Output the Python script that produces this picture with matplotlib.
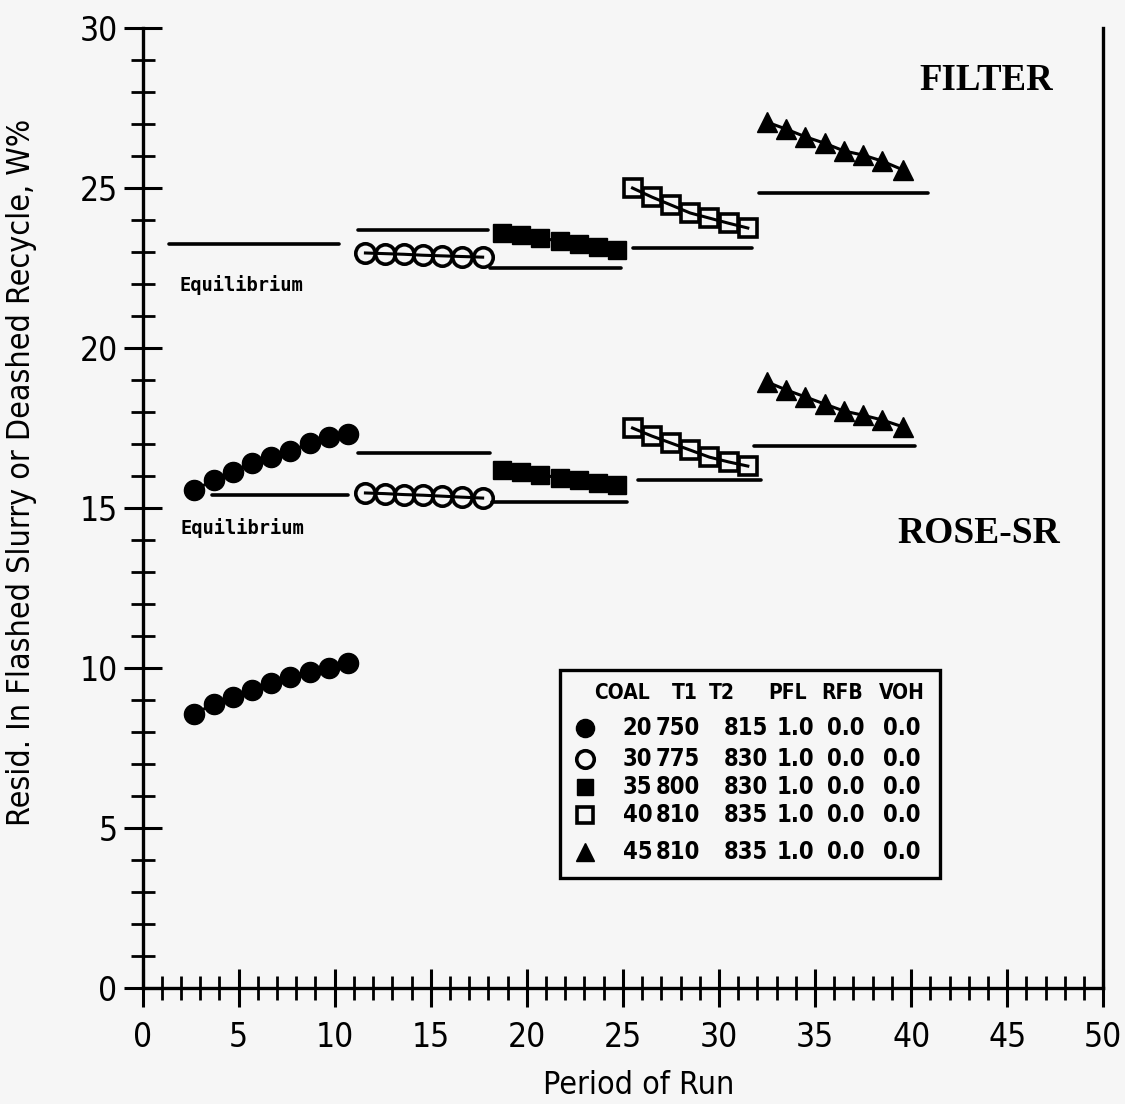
import matplotlib
matplotlib.use("Agg")
import matplotlib.pyplot as plt
from matplotlib.patches import Rectangle
from matplotlib.ticker import MultipleLocator

plt.rcParams["font.family"] = ["DejaVu Sans"]
plt.rcParams["font.stretch"] = "condensed"

# ---- data ----
x_c20 = [2.7, 3.7, 4.7, 5.7, 6.7, 7.7, 8.7, 9.7, 10.7]
x_c30 = [11.6, 12.6, 13.6, 14.6, 15.6, 16.6, 17.7]
x_c35 = [18.7, 19.7, 20.7, 21.7, 22.7, 23.7, 24.7]
x_c40 = [25.5, 26.5, 27.5, 28.5, 29.5, 30.5, 31.5]
x_c45 = [32.5, 33.5, 34.5, 35.5, 36.5, 37.5, 38.5, 39.6]

# FILTER group
filter_c30 = [22.97, 22.95, 22.93, 22.9, 22.88, 22.86, 22.84]
filter_c35 = [23.6, 23.52, 23.43, 23.35, 23.25, 23.15, 23.06]
filter_c40 = [25.0, 24.72, 24.47, 24.22, 24.06, 23.9, 23.75]
filter_c45 = [27.06, 26.84, 26.6, 26.4, 26.16, 26.03, 25.84, 25.56]

# ROSE-SR group
rose_c20 = [15.56, 15.87, 16.13, 16.4, 16.6, 16.78, 17.03, 17.22, 17.31]
rose_c30 = [15.47, 15.45, 15.42, 15.4, 15.37, 15.34, 15.31]
rose_c35 = [16.2, 16.12, 16.03, 15.95, 15.86, 15.78, 15.72]
rose_c40 = [17.5, 17.25, 17.03, 16.81, 16.59, 16.44, 16.31]
rose_c45 = [18.94, 18.69, 18.47, 18.25, 18.03, 17.9, 17.75, 17.53]

# lowest filled-circle series
low_c20 = [8.56, 8.88, 9.1, 9.31, 9.53, 9.72, 9.88, 10.0, 10.16]

# equilibrium lines: (x start, x end, level)
filter_eq = [(1.4, 10.2, 23.25), (11.2, 18.0, 23.7), (18.1, 24.9, 22.5),
             (25.5, 31.7, 23.13), (32.1, 40.9, 24.85)]
rose_eq = [(3.6, 10.7, 15.42), (11.2, 18.1, 16.72), (18.2, 25.2, 15.2),
           (25.8, 32.2, 15.87), (31.8, 40.2, 16.95)]

# legend table
col_names = ["COAL", "T1", "T2", "PFL", "RFB", "VOH"]
coal = ["20", "30", "35", "40", "45"]
t1 = ["750", "775", "800", "810", "810"]
t2 = ["815", "830", "830", "835", "835"]
pfl = ["1.0", "1.0", "1.0", "1.0", "1.0"]
rfb = ["0.0", "0.0", "0.0", "0.0", "0.0"]
voh = ["0.0", "0.0", "0.0", "0.0", "0.0"]

# ---- styles ----
styles = [
    dict(marker="o", ms=14.5, mfc="black"),
    dict(marker="o", ms=14, mfc="none", mew=2.6),
    dict(marker="s", ms=13.5, mfc="black"),
    dict(marker="s", ms=12.5, mfc="none", mew=2.6),
    dict(marker="^", ms=15, mfc="black"),
]

bg = "#f6f6f6"
fig = plt.figure(figsize=(11.25, 11.04), dpi=100, facecolor=bg)
ax = fig.add_axes([0.1267, 0.1051, 0.854, 0.8695])
ax.set_facecolor(bg)


def series(xs, ys, st):
    ax.plot(xs, ys, "-", color="black", lw=2.2, mec="black", clip_on=False, **st)


for xs, ys, st in [(x_c30, filter_c30, styles[1]), (x_c35, filter_c35, styles[2]),
                   (x_c40, filter_c40, styles[3]), (x_c45, filter_c45, styles[4]),
                   (x_c20, rose_c20, styles[0]), (x_c30, rose_c30, styles[1]),
                   (x_c35, rose_c35, styles[2]), (x_c40, rose_c40, styles[3]),
                   (x_c45, rose_c45, styles[4]), (x_c20, low_c20, styles[0])]:
    series(xs, ys, st)

for x0, x1, lev in filter_eq + rose_eq:
    ax.plot([x0, x1], [lev, lev], color="black", lw=2.6, solid_capstyle="round")

ax.text(1.9, 21.97, "Equilibrium", family="DejaVu Sans Mono", fontsize=13.5,
        fontweight="bold", va="center", ha="left")
ax.text(2.0, 14.37, "Equilibrium", family="DejaVu Sans Mono", fontsize=13.5,
        fontweight="bold", va="center", ha="left")

ax.text(43.9, 28.35, "FILTER", family="Liberation Serif", fontweight="bold",
        fontsize=26.5, ha="center", va="center")
ax.text(43.5, 14.2, "ROSE-SR", family="Liberation Serif", fontweight="bold",
        fontsize=27, ha="center", va="center")

# legend box (axes fraction layout)
ax.add_patch(Rectangle((0.4347, 0.1146), 0.3956, 0.2167, transform=ax.transAxes,
                       fill=False, lw=2.4, ec="black"))
col_x = [0.499, 0.564, 0.603, 0.671, 0.728, 0.790]
val_x = [0.515, 0.557, 0.628, 0.679, 0.732, 0.790]
head_y = 0.307
row_y = [0.271, 0.239, 0.209, 0.180, 0.142]
for cx, name in zip(col_x, col_names):
    ax.text(cx, head_y, name, transform=ax.transAxes, ha="center", va="center",
            fontsize=15, fontweight="bold")
cols = [coal, t1, t2, pfl, rfb, voh]
for i, ry in enumerate(row_y):
    st = dict(styles[i])
    st["ms"] = st["ms"] * 0.9
    ax.plot([0.461], [ry], transform=ax.transAxes, color="black", mec="black",
            clip_on=False, **st)
    for vx, col in zip(val_x, cols):
        ax.text(vx, ry, col[i], transform=ax.transAxes, ha="center", va="center",
                fontsize=17, fontweight="bold")

# axes
ax.set_xlim(0, 50)
ax.set_ylim(0, 30)
ax.xaxis.set_major_locator(MultipleLocator(5))
ax.xaxis.set_minor_locator(MultipleLocator(1))
ax.yaxis.set_major_locator(MultipleLocator(5))
ax.yaxis.set_minor_locator(MultipleLocator(1))
ax.tick_params(which="major", direction="inout", length=28, width=2.2,
               labelsize=24, pad=4)
ax.tick_params(which="minor", direction="inout", length=17, width=2.0)
ax.tick_params(axis="x", which="major", pad=10)
ax.spines["top"].set_visible(False)
for s in ["left", "bottom", "right"]:
    ax.spines[s].set_linewidth(2.4)

ax.set_xlabel("Period of Run", fontsize=23)
ax.xaxis.set_label_coords(0.516, -0.085)
ax.set_ylabel("Resid. In Flashed Slurry or Deashed Recycle, W%", fontsize=23)
ax.yaxis.set_label_coords(-0.11, 0.5375)

fig.savefig("out.png", dpi=100, facecolor=bg)
